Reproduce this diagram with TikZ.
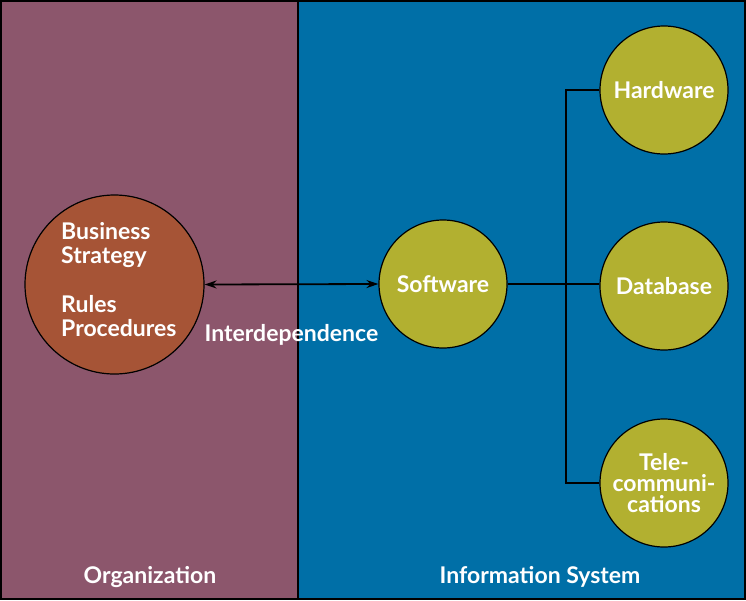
\documentclass[tikz,border=0pt]{standalone}
\usepackage{fontspec}
\setmainfont{Lato}
\usepackage{tikz}
\usetikzlibrary{arrows.meta, positioning}
\usepackage{xcolor}
\definecolor{orgpurple}{RGB}{140, 86, 108}
\definecolor{isblue}{RGB}{0, 111, 167}
\definecolor{rust}{RGB}{166, 84, 54}
\definecolor{olive}{RGB}{178, 176, 48}
\tikzset{
  % Panels
  panelA/.style  = {fill=orgpurple, draw=black, line width=2pt},
  panelB/.style  = {fill=isblue, draw=black, line width=2pt},
  % Circles
  bigdisc/.style = {circle, fill=rust, draw=black, line width=1.2pt,
                    minimum size=179pt, inner sep=0pt},
  comp/.style    = {circle, fill=olive, draw=black, line width=1.2pt,
                    minimum size=128pt, inner sep=0pt, align=center,
                    text=white, font=\bfseries\fontsize{23}{21}\selectfont},
  % Connectors
  link/.style    = {line width=2pt, draw=black},
  twoway/.style  = {{Stealth[length=12pt,width=8pt]}-{Stealth[length=12pt,width=8pt]},
                    line width=1.8pt, draw=black},
  % Labels
  lab/.style     = {text=white, font=\bfseries\fontsize{23}{24}\selectfont},
}

\begin{document}
\begin{tikzpicture}[x=1pt, y=-1pt]
  \useasboundingbox (0,0) rectangle (746,600);
  % two panels
  \draw[panelA] (1,1) rectangle (298,599);
  \draw[panelB] (298,1) rectangle (745,599);

  % organization side
  \node[bigdisc] (org) at (114.5,284.5) {};
  \node[lab, align=left, anchor=north west, inner sep=0pt] (orgtxt) at (61,222)
    {Business\\Strategy\\[25pt]Rules\\Procedures};

  % information system side
  \node[comp] (sw) at (443,284) {Software};
  \node[comp] (hw) at (664,90) {Hardware};
  \node[comp] (db) at (664,286) {Database};
  \node[comp] (tc) at (664,483) {Tele-\\communi-\\cations};

  % connectors
  \draw[link] (sw.east) -- (sw.east -| db.west);
  \draw[link] (hw.west) -- ++(-33,0) |- (tc.west);
  \draw[twoway] (org.east) -- (sw.west)
    node[lab, pos=0.5, below=36pt] (inter) {Interdependence};

  % panel titles
  \node[lab] (orgname) at (150,577) {Organization};
  \node[lab] (isname) at (540,577) {Information System};
\end{tikzpicture}
\end{document}
